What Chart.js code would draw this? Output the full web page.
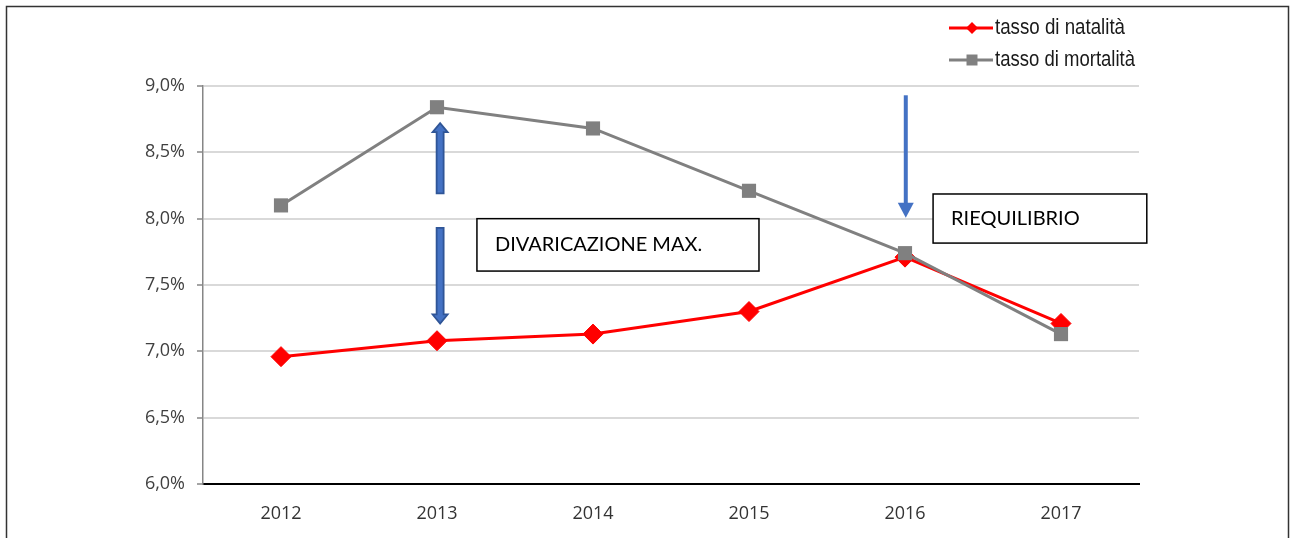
<!DOCTYPE html>
<html lang="it">
<head>
<meta charset="UTF-8">
<title>Tasso di natalità e tasso di mortalità</title>
<script src="https://cdn.jsdelivr.net/npm/chart.js"></script>
<style>
  body { margin: 0; background: #fff; }
  #wrap { width: 1292px; height: 538px; }
</style>
</head>
<body>
<div id="wrap"><canvas id="rates" width="1292" height="538"></canvas></div>
<script>
// data (percent)
const years = ['2012', '2013', '2014', '2015', '2016', '2017'];
const natalita = [6.96, 7.08, 7.13, 7.30, 7.71, 7.21];
const mortalita = [8.10, 8.84, 8.68, 8.21, 7.74, 7.13];
const yTicks = [6.0, 6.5, 7.0, 7.5, 8.0, 8.5, 9.0];
const seriesNames = ['tasso di natalità', 'tasso di mortalità'];

const RED = '#ff0000';
const GREY = '#808080';
const BLUE = '#4472c4';
const BLUE_DARK = '#2f5597';

function pct(v) {
    return v.toFixed(1).replace('.', ',') + '%';
}

// filled vertical arrow with a darker outline
function blockArrow(ctx, x, yFrom, yTo) {
    const dir = yTo < yFrom ? -1 : 1;
    const shaft = 3.5, head = 7.5, headLen = 9;
    const yNeck = yTo - dir * headLen;
    ctx.beginPath();
    ctx.moveTo(x - shaft, yFrom);
    ctx.lineTo(x - shaft, yNeck);
    ctx.lineTo(x - head, yNeck);
    ctx.lineTo(x, yTo);
    ctx.lineTo(x + head, yNeck);
    ctx.lineTo(x + shaft, yNeck);
    ctx.lineTo(x + shaft, yFrom);
    ctx.closePath();
    ctx.fillStyle = BLUE;
    ctx.fill();
    ctx.strokeStyle = BLUE_DARK;
    ctx.lineWidth = 1.8;
    ctx.stroke();
}

// thin line arrow pointing down
function lineArrow(ctx, x, yFrom, yTo) {
    const headLen = 15, head = 8;
    ctx.strokeStyle = BLUE;
    ctx.lineWidth = 4;
    ctx.beginPath();
    ctx.moveTo(x, yFrom);
    ctx.lineTo(x, yTo - headLen + 1);
    ctx.stroke();
    ctx.fillStyle = BLUE;
    ctx.beginPath();
    ctx.moveTo(x - head, yTo - headLen);
    ctx.lineTo(x + head, yTo - headLen);
    ctx.lineTo(x, yTo);
    ctx.closePath();
    ctx.fill();
}

function textBox(ctx, x1, y1, x2, y2, text, pad) {
    ctx.fillStyle = '#fff';
    ctx.fillRect(x1, y1, x2 - x1, y2 - y1);
    ctx.strokeStyle = '#000';
    ctx.lineWidth = 1.5;
    ctx.strokeRect(x1, y1, x2 - x1, y2 - y1);
    ctx.fillStyle = '#000';
    ctx.font = '20px Lato, "Open Sans", sans-serif';
    ctx.textAlign = 'left';
    ctx.textBaseline = 'middle';
    ctx.fillText(text, x1 + pad, (y1 + y2) / 2);
}

// narrow legend text, squeezed to a fixed width
function fitText(ctx, text, x, y, width) {
    ctx.font = '22px "Liberation Sans Narrow", "Liberation Sans", Arial, sans-serif';
    ctx.textAlign = 'left';
    ctx.textBaseline = 'middle';
    const w = ctx.measureText(text).width;
    ctx.save();
    ctx.translate(x, y);
    ctx.scale(width / w, 1);
    ctx.fillText(text, 0, 0);
    ctx.restore();
}

const extras = {
    id: 'extras',
    beforeDraw(chart) {
        const ctx = chart.ctx;
        ctx.save();
        ctx.fillStyle = '#fff';
        ctx.fillRect(0, 0, chart.width, chart.height);
        ctx.strokeStyle = '#333';
        ctx.lineWidth = 1.5;
        ctx.strokeRect(6.5, 6.5, 1282, 560);
        ctx.restore();
    },
    afterDraw(chart) {
        const ctx = chart.ctx;
        const xs = chart.scales.x, ys = chart.scales.y;
        ctx.save();

        // legend
        const rows = [
            { name: seriesNames[0], color: RED, y: 28, width: 130 },
            { name: seriesNames[1], color: GREY, y: 60, width: 140 }
        ];
        rows.forEach((r, i) => {
            ctx.strokeStyle = r.color;
            ctx.lineWidth = 3;
            ctx.beginPath();
            ctx.moveTo(949, r.y);
            ctx.lineTo(993, r.y);
            ctx.stroke();
            ctx.fillStyle = r.color;
            ctx.beginPath();
            if (i === 0) {
                ctx.moveTo(972 - 6, r.y);
                ctx.lineTo(972, r.y - 6);
                ctx.lineTo(972 + 6, r.y);
                ctx.lineTo(972, r.y + 6);
                ctx.closePath();
            } else {
                ctx.rect(972 - 5.5, r.y - 5.5, 11, 11);
            }
            ctx.fill();
            ctx.fillStyle = '#1a1a1a';
            fitText(ctx, r.name, 995, r.y, r.width);
        });

        // gap between the two rates in 2013
        const xGap = xs.getPixelForValue(1.02);
        blockArrow(ctx, xGap, ys.getPixelForValue(8.19), ys.getPixelForValue(8.72));
        blockArrow(ctx, xGap, ys.getPixelForValue(7.93), ys.getPixelForValue(7.21));
        textBox(ctx, xs.getPixelForValue(1.256), ys.getPixelForValue(8.0),
            xs.getPixelForValue(3.064), ys.getPixelForValue(7.605), 'DIVARICAZIONE MAX.', 18);

        // the two lines meet in 2016
        const xEq = xs.getPixelForValue(4.005);
        lineArrow(ctx, xEq, ys.getPixelForValue(8.93), ys.getPixelForValue(8.0) - 1);
        textBox(ctx, xs.getPixelForValue(4.18), ys.getPixelForValue(8.186),
            xs.getPixelForValue(5.55), ys.getPixelForValue(7.816), 'RIEQUILIBRIO', 18);

        ctx.restore();
    }
};

new Chart(document.getElementById('rates'), {
    type: 'line',
    data: {
        labels: years,
        datasets: [
            {
                label: seriesNames[0],
                data: natalita,
                borderColor: RED,
                backgroundColor: RED,
                borderWidth: 3,
                pointStyle: 'rectRot',
                pointRadius: 10,
                pointBorderWidth: 1,
                pointBackgroundColor: RED,
                pointBorderColor: RED,
                tension: 0,
                order: 1
            },
            {
                label: seriesNames[1],
                data: mortalita,
                borderColor: GREY,
                backgroundColor: GREY,
                borderWidth: 3,
                pointStyle: 'rect',
                pointRadius: 10,
                pointBorderWidth: 0,
                pointBackgroundColor: GREY,
                tension: 0,
                order: 0
            }
        ]
    },
    options: {
        responsive: false,
        animation: false,
        events: [],
        layout: { padding: { left: 20, top: 86, right: 153, bottom: 0 } },
        plugins: {
            legend: { display: false },
            tooltip: { enabled: false }
        },
        scales: {
            x: {
                type: 'category',
                offset: true,
                grid: { display: false, drawTicks: false },
                border: { color: '#000', width: 2 },
                ticks: {
                    padding: 19,
                    color: '#333',
                    font: { family: '"Open Sans", sans-serif', size: 18 }
                },
                afterFit(scale) { scale.height = 54; }
            },
            y: {
                min: 6,
                max: 9,
                grid: { color: '#d9d9d9', lineWidth: 2, tickLength: 6, tickColor: '#868686', tickWidth: 1.5 },
                border: { color: '#868686', width: 1.5 },
                ticks: {
                    padding: 12,
                    color: '#404040',
                    font: { family: '"Open Sans", sans-serif', size: 18 },
                    callback: v => pct(v)
                },
                afterBuildTicks(scale) { scale.ticks = yTicks.map(v => ({ value: v })); },
                afterFit(scale) { scale.width = 183; }
            }
        }
    },
    plugins: [extras]
});
</script>
</body>
</html>
